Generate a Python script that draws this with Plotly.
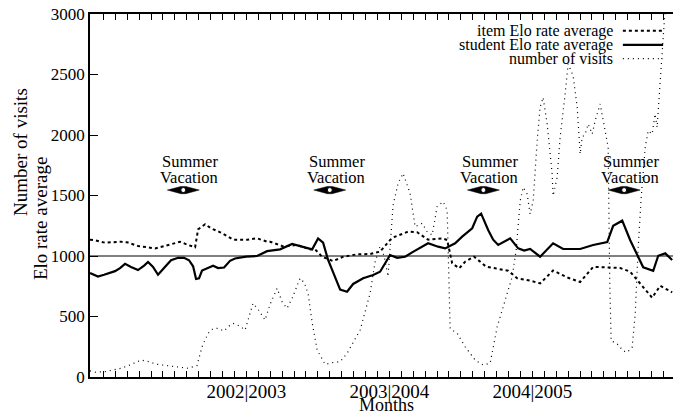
import plotly.graph_objects as go

# ---------------- data (x in months, Sept 2001 = month 1) ----------------
student_month = [-0.12, 0.55, 1.06, 1.56, 1.98, 2.40, 2.82, 3.32, 3.91, 4.42, 4.75, 5.17, 5.59, 6.09,
                 6.68, 7.27, 7.77, 8.19, 8.53, 8.78, 9.03, 9.28, 9.79, 10.21, 10.63, 11.13, 11.63,
                 12.05, 12.98, 13.90, 14.74, 15.83, 16.84, 17.68, 18.52, 19.02, 19.44, 19.86, 20.28,
                 20.87, 21.45, 21.96, 22.80, 23.64, 24.22, 24.56, 25.06, 25.65, 26.32, 26.91, 27.33,
                 28.25, 29.09, 29.68, 30.52, 31.11, 31.95, 32.37, 32.70, 33.29, 33.71, 34.13, 35.14,
                 35.81, 36.31, 36.81, 37.65, 38.74, 39.58, 41.01, 42.10, 43.28, 43.78, 44.54, 45.21,
                 45.80, 46.30, 47.14, 47.56, 48.15, 48.73]
student_elo = [860, 830, 845, 860, 875, 900, 935, 910, 884, 920, 950, 910, 845, 900,
               965, 985, 985, 965, 915, 810, 815, 880, 900, 920, 900, 905, 960,
               979, 995, 1000, 1040, 1055, 1100, 1077, 1055, 1145, 1110, 967, 870,
               722, 705, 769, 816, 843, 870, 930, 1008, 985, 994, 1030, 1055,
               1105, 1077, 1063, 1105, 1160, 1229, 1325, 1350, 1215, 1135, 1091, 1146,
               1063, 1045, 1058, 994, 1105, 1058, 1058, 1091, 1115, 1250, 1292, 1130,
               1016, 907, 878, 1002, 1022, 967]

item_month = [-0.12, 0.30, 1.14, 2.49, 2.99, 3.91, 4.92, 5.34, 6.68, 7.44, 8.11, 8.70, 8.95, 9.54,
              10.04, 10.80, 11.47, 11.89, 13.06, 13.90, 14.74, 14.99, 16.08, 17.26, 18.35, 18.69,
              19.36, 20.28, 21.12, 22.29, 23.38, 24.22, 25.06, 25.48, 26.57, 27.33, 28.25, 29.43,
              29.85, 30.27, 30.86, 31.36, 32.11, 33.12, 33.88, 34.97, 35.73, 36.81, 37.65, 38.74,
              39.92, 41.01, 42.10, 43.53, 44.37, 45.21, 46.30, 47.05, 47.73, 48.23, 48.73]
item_elo = [1135, 1130, 1110, 1118, 1113, 1083, 1069, 1063, 1097, 1118, 1091, 1072, 1220, 1262,
            1229, 1196, 1160, 1135, 1135, 1146, 1118, 1118, 1080, 1091, 1055, 1063,
            994, 958, 994, 1014, 1016, 1036, 1132, 1160, 1201, 1196, 1135, 1146,
            1132, 940, 898, 953, 994, 912, 898, 878, 816, 796, 774, 880,
            823, 785, 910, 907, 901, 870, 741, 655, 754, 727, 700]

visits_month = [-0.12, 0.30, 1.14, 2.49, 3.24, 4.16, 4.92, 5.34, 6.35, 6.68, 8.11, 8.86, 9.28, 9.79,
                10.21, 10.63, 11.13, 11.47, 11.89, 12.47, 12.89, 13.56, 13.98, 14.57, 14.99, 15.58,
                16.00, 16.42, 16.84, 17.51, 17.85, 18.18, 18.52, 18.94, 19.61, 20.28, 20.87, 21.45,
                22.55, 23.38, 23.80, 24.22, 24.56, 24.89, 25.31, 25.73, 26.15, 26.74, 27.16, 27.75,
                28.17, 28.59, 29.01, 29.51, 29.85, 30.10, 30.69, 31.36, 32.20, 32.87, 33.46, 34.05,
                34.55, 35.31, 35.64, 35.98, 36.23, 36.56, 36.81, 37.07, 37.40, 37.65, 37.90, 38.24,
                38.66, 38.74, 39.08, 39.33, 39.75, 40.00, 40.42, 40.76, 41.01, 41.18, 41.43, 41.68,
                42.02, 42.27, 42.69, 42.94, 43.36, 43.49, 43.61, 44.12, 44.62, 44.96, 45.37, 45.63,
                45.88, 46.13, 46.47, 46.72, 47.05, 47.30, 47.47, 47.73, 47.98, 48.15]
visits = [50, 40, 44, 72, 100, 140, 125, 107, 94, 91, 72, 95, 250, 361,
          400, 402, 380, 416, 443, 420, 388, 609, 560, 471, 600, 733,
          620, 568, 650, 816, 780, 691, 450, 223, 105, 120, 126, 196,
          388, 691, 950, 1080, 1000, 830, 1420, 1600, 1683, 1518, 1242, 1270,
          1201, 1174, 1408, 1449, 1380, 400, 361, 250, 140, 99, 115, 416,
          581, 829, 1050, 1457, 1568, 1512, 1347, 1457, 1953, 2229, 2311, 2091,
          1678, 1498, 1650, 1981, 2339, 2587, 2490, 2229, 1843, 1981, 2008, 2091,
          2008, 2119, 2256, 2119, 1898, 796, 300, 273, 217, 204, 245, 521,
          1072, 1484, 1898, 2036, 2008, 2173, 2063, 2449, 2862, 3050]

school_year_months = [13, 25, 37]
school_year_labels = ["2002|2003", "2003|2004", "2004|2005"]
vacation_centers = [7.71, 20.0, 32.89, 44.7]
reference_elo = 1000
y_ticks = [0, 500, 1000, 1500, 2000, 2500, 3000]
month_ticks = list(range(1, 49))

# ---------------- styles ----------------
FONT = "Liberation Serif"
X_RANGE = [-0.12, 48.8]
ITEM_DASH = "3px,3px"
VISIT_DASH = "1px,4px"

fig = go.Figure()

fig.add_trace(go.Scatter(x=visits_month, y=visits, mode="lines",
                         line=dict(color="black", width=1.2, dash=VISIT_DASH),
                         name="number of visits", showlegend=False))
fig.add_trace(go.Scatter(x=item_month, y=item_elo, mode="lines",
                         line=dict(color="black", width=2, dash=ITEM_DASH),
                         name="item Elo rate average", showlegend=False))
fig.add_trace(go.Scatter(x=student_month, y=student_elo, mode="lines",
                         line=dict(color="black", width=2.2),
                         name="student Elo rate average", showlegend=False))

# reference line at 1000
fig.add_trace(go.Scatter(x=X_RANGE, y=[reference_elo, reference_elo], mode="lines",
                         line=dict(color="black", width=1), showlegend=False, hoverinfo="skip"))

# summer vacation double arrows
ARROW_Y = 1545
HALF_W = 1.34
HALF_H = 30
for c in vacation_centers:
    px_ = [c - HALF_W, c - 0.2, c + 0.2, c + HALF_W, c + 0.2, c - 0.2, c - HALF_W]
    py_ = [ARROW_Y, ARROW_Y + HALF_H, ARROW_Y + HALF_H, ARROW_Y,
           ARROW_Y - HALF_H, ARROW_Y - HALF_H, ARROW_Y]
    fig.add_trace(go.Scatter(x=px_, y=py_, mode="lines", fill="toself",
                             fillcolor="black", line=dict(color="black", width=0.5),
                             showlegend=False, hoverinfo="skip"))
fig.add_trace(go.Scatter(x=vacation_centers, y=[ARROW_Y] * len(vacation_centers), mode="markers",
                         marker=dict(symbol="circle", size=5, color="white",
                                     line=dict(color="black", width=1)),
                         showlegend=False, hoverinfo="skip"))

annotations = []
for c in vacation_centers:
    annotations.append(dict(x=c, y=1777, xref="x", yref="y", text="Summer", showarrow=False,
                            xshift=7, font=dict(family=FONT, size=16.5, color="black")))
    annotations.append(dict(x=c, y=1645, xref="x", yref="y", text="Vacation", showarrow=False,
                            xshift=6, font=dict(family=FONT, size=16.5, color="black")))

# custom legend (text right-aligned, sample on the right)
legend_rows = [("item Elo rate average", ITEM_DASH, 2, 0.954),
               ("student Elo rate average", "solid", 2.2, 0.915),
               ("number of visits", VISIT_DASH, 1.2, 0.877)]
shapes = []
for txt, dash, w, yy in legend_rows:
    annotations.append(dict(x=0.9005, y=yy, xref="paper", yref="paper", text=txt,
                            showarrow=False, xanchor="right", yanchor="middle",
                            font=dict(family=FONT, size=16, color="black")))
    shapes.append(dict(type="line", xref="paper", yref="paper", x0=0.914, x1=0.983,
                       y0=yy, y1=yy, line=dict(color="black", width=w, dash=dash)))

# axis titles
annotations.append(dict(x=0.509, y=0, xref="paper", yref="paper", text="Months",
                        showarrow=False, yshift=-28, yanchor="middle", xanchor="center",
                        font=dict(family=FONT, size=18, color="black")))
annotations.append(dict(x=0, y=0.62, xref="paper", yref="paper", text="Number of visits",
                        showarrow=False, xshift=-69, textangle=-90,
                        xanchor="center", yanchor="middle",
                        font=dict(family=FONT, size=19, color="black")))
annotations.append(dict(x=0, y=0.435, xref="paper", yref="paper", text="Elo rate average",
                        showarrow=False, xshift=-50, textangle=-90,
                        xanchor="center", yanchor="middle",
                        font=dict(family=FONT, size=19, color="black")))

tick_text = [school_year_labels[school_year_months.index(m)] if m in school_year_months else ""
             for m in month_ticks]

fig.update_layout(
    width=673, height=415,
    margin=dict(l=90, r=0, t=14, b=38),
    paper_bgcolor="white", plot_bgcolor="white",
    showlegend=False,
    annotations=annotations,
    shapes=shapes,
    xaxis=dict(range=X_RANGE, tickmode="array", tickvals=month_ticks, ticktext=tick_text,
               ticks="inside", ticklen=6, tickwidth=1, tickcolor="black",
               showline=True, linecolor="black", linewidth=1.5, mirror="ticks",
               showgrid=False, zeroline=False, ticklabelstandoff=-4,
               tickfont=dict(family=FONT, size=19, color="black")),
    yaxis=dict(range=[0, 3000], tickmode="array", tickvals=y_ticks,
               ticks="inside", ticklen=8, tickwidth=1, tickcolor="black",
               showline=True, linecolor="black", linewidth=1.5,
               showgrid=False, zeroline=False,
               tickfont=dict(family=FONT, size=17, color="black")),
)

fig.write_html("out.html", config={"displayModeBar": False},
               post_script="document.body.style.margin='0px';")
